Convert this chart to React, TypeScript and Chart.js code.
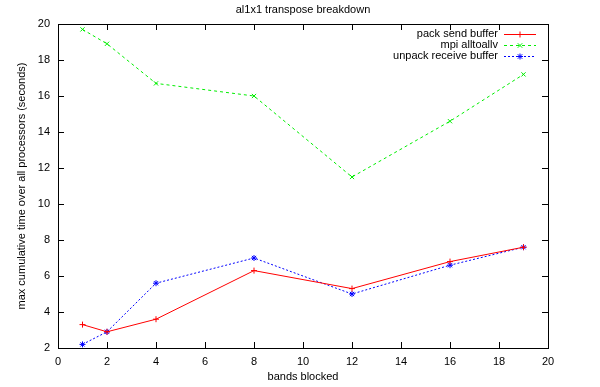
import React, { useEffect, useRef } from "react";
import { Chart, registerables } from "chart.js";

Chart.register(...registerables);

const bands = [1, 2, 4, 8, 12, 16, 19];
const packSend = [3.3, 2.9, 3.6, 6.3, 5.3, 6.8, 7.6];
const mpiAlltoallv = [19.7, 18.9, 16.7, 16.0, 11.5, 14.6, 17.2];
const unpackReceive = [2.2, 2.9, 5.6, 7.0, 5.0, 6.6, 7.6];
const seriesNames = ["pack send buffer", "mpi alltoallv", "unpack receive buffer"];
const seriesColors = ["#ff0000", "#00ee00", "#0000ff"];
const seriesDash = [[], [3, 3], [2, 2]];
const seriesMarker = ["cross", "crossRot", "star"];
const titleText = "al1x1 transpose breakdown";
const xTitle = "bands blocked";
const yTitle = "max cumulative time over all processors (seconds)";
const xTicks = [0, 2, 4, 6, 8, 10, 12, 14, 16, 18, 20];
const yTicks = [2, 4, 6, 8, 10, 12, 14, 16, 18, 20];

const FONT = "11px 'Liberation Sans', Arial, sans-serif";

function drawMarker(ctx: CanvasRenderingContext2D, kind: string, x: number, y: number, r: number) {
  ctx.beginPath();
  if (kind === "cross" || kind === "star") {
    ctx.moveTo(x - r, y); ctx.lineTo(x + r, y);
    ctx.moveTo(x, y - r); ctx.lineTo(x, y + r);
  }
  if (kind === "crossRot" || kind === "star") {
    const d = r * 0.75;
    ctx.moveTo(x - d, y - d); ctx.lineTo(x + d, y + d);
    ctx.moveTo(x - d, y + d); ctx.lineTo(x + d, y - d);
  }
  ctx.stroke();
}

const decorPlugin = {
  id: "decor",
  afterDraw(chart: any) {
    const { ctx, chartArea } = chart;
    const { left, right, top, bottom } = chartArea;
    const xs = chart.scales.x;
    const ys = chart.scales.y;
    ctx.save();
    ctx.strokeStyle = "#000";
    ctx.lineWidth = 1;
    ctx.setLineDash([]);
    ctx.strokeRect(Math.round(left) + 0.5, Math.round(top) + 0.5, Math.round(right - left), Math.round(bottom - top));
    const tl = 6;
    ctx.beginPath();
    xTicks.forEach((v) => {
      const px = Math.round(xs.getPixelForValue(v)) + 0.5;
      ctx.moveTo(px, bottom); ctx.lineTo(px, bottom - tl);
      ctx.moveTo(px, top); ctx.lineTo(px, top + tl);
    });
    yTicks.forEach((v) => {
      const py = Math.round(ys.getPixelForValue(v)) + 0.5;
      ctx.moveTo(left, py); ctx.lineTo(left + tl, py);
      ctx.moveTo(right, py); ctx.lineTo(right - tl, py);
    });
    ctx.stroke();

    ctx.fillStyle = "#000";
    ctx.font = FONT;
    ctx.textBaseline = "middle";
    ctx.textAlign = "center";
    ctx.fillText(titleText, (left + right) / 2, 10);
    ctx.fillText(xTitle, (left + right) / 2, 377);
    ctx.save();
    ctx.translate(22, (top + bottom) / 2);
    ctx.rotate(-Math.PI / 2);
    ctx.fillText(yTitle, 0, 0);
    ctx.restore();

    // legend
    seriesNames.forEach((name, i) => {
      const y = 34 + i * 11;
      ctx.fillStyle = "#000";
      ctx.textAlign = "right";
      ctx.fillText(name, 498, y);
      ctx.strokeStyle = seriesColors[i];
      ctx.setLineDash(seriesDash[i]);
      ctx.beginPath();
      ctx.moveTo(504, y + 0.5); ctx.lineTo(536, y + 0.5);
      ctx.stroke();
      ctx.setLineDash([]);
      drawMarker(ctx, seriesMarker[i], 520, y + 0.5, 3);
    });
    ctx.restore();
  },
};

export default function App() {
  const ref = useRef<HTMLCanvasElement>(null);
  useEffect(() => {
    document.body.style.margin = "0";
    const series = [packSend, mpiAlltoallv, unpackReceive];
    const chart = new Chart(ref.current!, {
      type: "line",
      data: {
        datasets: series.map((vals, i) => ({
          label: seriesNames[i],
          data: bands.map((b, j) => ({ x: b, y: vals[j] })),
          borderColor: seriesColors[i],
          backgroundColor: seriesColors[i],
          borderWidth: 1,
          borderDash: seriesDash[i],
          pointStyle: seriesMarker[i] as any,
          pointRadius: 3,
          pointBorderWidth: 1,
          fill: false,
          tension: 0,
        })),
      },
      options: {
        animation: false,
        responsive: false,
        devicePixelRatio: 1,
        layout: { padding: { top: 24, right: 52, left: 0, bottom: 0 } },
        plugins: { legend: { display: false }, title: { display: false }, tooltip: { enabled: false } },
        scales: {
          x: {
            type: "linear",
            min: 0,
            max: 20,
            afterFit: (s: any) => { s.height = 39; },
            afterBuildTicks: (s: any) => { s.ticks = xTicks.map((v) => ({ value: v })); },
            grid: { display: false, drawTicks: false },
            border: { display: false },
            ticks: { color: "#000", font: { family: "'Liberation Sans', Arial, sans-serif", size: 11 }, padding: 7, maxRotation: 0 },
          },
          y: {
            type: "linear",
            min: 2,
            max: 20,
            afterFit: (s: any) => { s.width = 58; },
            afterBuildTicks: (s: any) => { s.ticks = yTicks.map((v) => ({ value: v })); },
            grid: { display: false, drawTicks: false },
            border: { display: false },
            ticks: { color: "#000", font: { family: "'Liberation Sans', Arial, sans-serif", size: 11 }, padding: 8 },
          },
        },
      },
      plugins: [decorPlugin],
    });
    return () => chart.destroy();
  }, []);
  return (
    <div style={{ position: "absolute", left: 0, top: 0, width: 600, height: 387, background: "#fff" }}>
      <canvas ref={ref} width={600} height={387} />
    </div>
  );
}
